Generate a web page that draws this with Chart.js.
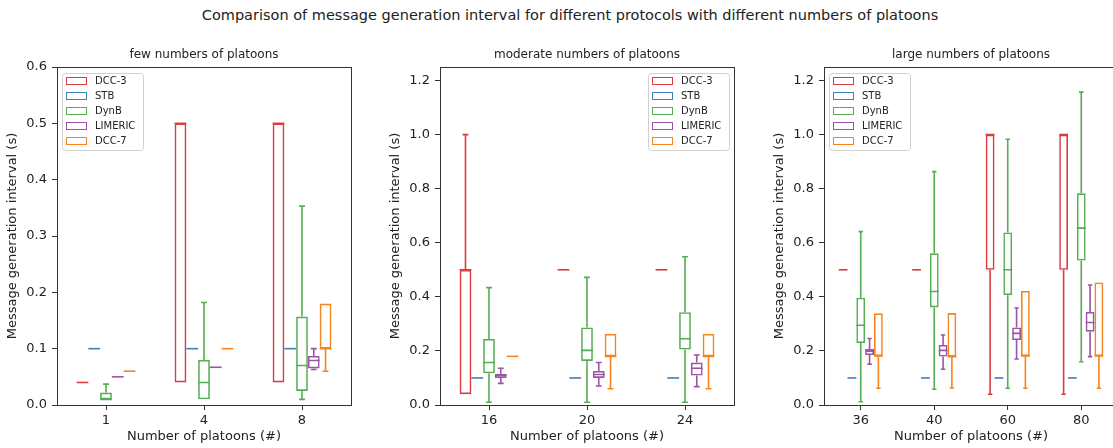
<!DOCTYPE html>
<html>
<head>
<meta charset="utf-8">
<title>Message generation interval</title>
<script src="https://cdn.jsdelivr.net/npm/chart.js@4.4.1/dist/chart.umd.min.js"></script>
<style>
  html, body { margin: 0; padding: 0; width: 1113px; height: 448px; overflow: hidden; background: #fff; }
  #title { position: absolute; left: 0; top: 6px; width: 1140px; text-align: center;
           font: 14.5px "DejaVu Sans", sans-serif; color: #222; line-height: 18px; }
  canvas { position: absolute; top: 40px; }
</style>
</head>
<body>
<div id="title">Comparison of message generation interval for different protocols with different numbers of platoons</div>
<canvas id="few" width="370" height="408" style="left:0px"></canvas>
<canvas id="moderate" width="370" height="408" style="left:383px"></canvas>
<canvas id="large" width="370" height="408" style="left:767px"></canvas>
<script>
// Each box: [lower whisker, q1, median, q3, upper whisker]
const seriesNames = ["DCC-3", "STB", "DynB", "LIMERIC", "DCC-7"];

const fewCats = ["1", "4", "8"];
const fewDCC3 = [[0.04, 0.04, 0.04, 0.04, 0.04], [0.04, 0.04, 0.5, 0.5, 0.5], [0.04, 0.04, 0.5, 0.5, 0.5]];
const fewSTB = [[0.1, 0.1, 0.1, 0.1, 0.1], [0.1, 0.1, 0.1, 0.1, 0.1], [0.1, 0.1, 0.1, 0.1, 0.1]];
const fewDynB = [[0.01, 0.01, 0.01, 0.022, 0.037], [0.01, 0.01, 0.04, 0.08, 0.182], [0.01, 0.025, 0.07, 0.157, 0.353]];
const fewLIMERIC = [[0.05, 0.05, 0.05, 0.05, 0.05], [0.067, 0.067, 0.067, 0.067, 0.067], [0.063, 0.065, 0.079, 0.087, 0.1]];
const fewDCC7 = [[0.06, 0.06, 0.06, 0.06, 0.06], [0.1, 0.1, 0.1, 0.1, 0.1], [0.06, 0.1, 0.1, 0.18, 0.18]];

const modCats = ["16", "20", "24"];
const modDCC3 = [[0.04, 0.04, 0.5, 0.5, 1.0], [0.5, 0.5, 0.5, 0.5, 0.5], [0.5, 0.5, 0.5, 0.5, 0.5]];
const modSTB = [[0.1, 0.1, 0.1, 0.1, 0.1], [0.1, 0.1, 0.1, 0.1, 0.1], [0.1, 0.1, 0.1, 0.1, 0.1]];
const modDynB = [[0.01, 0.117, 0.157, 0.244, 0.434], [0.01, 0.163, 0.202, 0.287, 0.472], [0.01, 0.205, 0.245, 0.343, 0.548]];
const modLIMERIC = [[0.08, 0.1, 0.11, 0.116, 0.136], [0.07, 0.1, 0.113, 0.126, 0.157], [0.068, 0.109, 0.136, 0.157, 0.185]];
const modDCC7 = [[0.18, 0.18, 0.18, 0.18, 0.18], [0.06, 0.18, 0.18, 0.263, 0.263], [0.06, 0.18, 0.18, 0.263, 0.263]];

const largeCats = ["36", "40", "60", "80"];
const largeDCC3 = [[0.5, 0.5, 0.5, 0.5, 0.5], [0.5, 0.5, 0.5, 0.5, 0.5], [0.04, 0.5, 1.0, 1.0, 1.0], [0.04, 0.5, 1.0, 1.0, 1.0]];
const largeSTB = [[0.1, 0.1, 0.1, 0.1, 0.1], [0.1, 0.1, 0.1, 0.1, 0.1], [0.1, 0.1, 0.1, 0.1, 0.1], [0.1, 0.1, 0.1, 0.1, 0.1]];
const largeDynB = [[0.012, 0.229, 0.295, 0.397, 0.641], [0.058, 0.361, 0.42, 0.561, 0.863], [0.062, 0.406, 0.5, 0.638, 0.983], [0.16, 0.534, 0.654, 0.783, 1.157]];
const largeLIMERIC = [[0.151, 0.185, 0.199, 0.207, 0.246], [0.132, 0.179, 0.202, 0.222, 0.259], [0.17, 0.24, 0.265, 0.287, 0.359], [0.179, 0.271, 0.305, 0.344, 0.444]];
const largeDCC7 = [[0.062, 0.181, 0.181, 0.339, 0.339], [0.063, 0.179, 0.179, 0.34, 0.34], [0.062, 0.181, 0.181, 0.422, 0.422], [0.062, 0.181, 0.181, 0.453, 0.453]];

const yTicksFew = [0, 0.1, 0.2, 0.3, 0.4, 0.5, 0.6];
const yTicksMore = [0, 0.2, 0.4, 0.6, 0.8, 1.0, 1.2];

const seriesColors = ["#dc3a40", "#3f7fb8", "#55ad52", "#9a55a5", "#f5841f"];

Chart.defaults.font.family = "'DejaVu Sans', sans-serif";
Chart.defaults.color = "#222";

// outline of the whole plot area (matplotlib spines) + subplot heading
const framePlugin = {
  id: "frame",
  afterDatasetsDraw(chart, args, opts) {
    const { ctx, chartArea: a } = chart;
    ctx.save();
    ctx.strokeStyle = "#333";
    ctx.lineWidth = 1;
    ctx.strokeRect(Math.round(a.left) + 0.5, Math.round(a.top) + 0.5,
      Math.round(a.right - a.left), Math.round(a.bottom - a.top));
    ctx.fillStyle = "#222";
    ctx.font = "12px 'DejaVu Sans', sans-serif";
    ctx.textAlign = "center";
    ctx.textBaseline = "middle";
    ctx.fillText(opts.heading, (a.left + a.right) / 2, a.top - 12);
    ctx.restore();
  },
};

// medians, whiskers and caps on top of the floating bars
const boxPlugin = {
  id: "whiskers",
  afterDatasetsDraw(chart) {
    const ctx = chart.ctx, y = chart.scales.y;
    chart.data.datasets.forEach((ds, i) => {
      const meta = chart.getDatasetMeta(i);
      meta.data.forEach((bar, j) => {
        const [lo, q1, med, q3, hi] = ds.stats[j];
        const x = bar.x, half = bar.width / 2, cap = bar.width / 4;
        ctx.save();
        ctx.strokeStyle = ds.borderColor;
        ctx.lineWidth = 1.6;
        ctx.beginPath();
        const ym = y.getPixelForValue(med);
        ctx.moveTo(x - half, ym);
        ctx.lineTo(x + half, ym);
        if (hi > q3) {
          const yh = y.getPixelForValue(hi);
          ctx.moveTo(x, y.getPixelForValue(q3));
          ctx.lineTo(x, yh);
          ctx.moveTo(x - cap, yh);
          ctx.lineTo(x + cap, yh);
        }
        if (lo < q1) {
          const yl = y.getPixelForValue(lo);
          ctx.moveTo(x, y.getPixelForValue(q1));
          ctx.lineTo(x, yl);
          ctx.moveTo(x - cap, yl);
          ctx.lineTo(x + cap, yl);
        }
        ctx.stroke();
        ctx.restore();
      });
    });
  },
};

// legend inside the plot area, with outlined patches
const legendPlugin = {
  id: "boxLegend",
  afterDraw(chart, args, opts) {
    const { ctx, chartArea: a } = chart;
    const items = chart.data.datasets;
    ctx.save();
    ctx.font = "10px 'DejaVu Sans', sans-serif";
    const textW = Math.max(...items.map((d) => ctx.measureText(d.label).width));
    const w = Math.round(33 + textW + 8), h = items.length * 15 + 2;
    const left = opts.side === "right" ? Math.round(a.right - 5 - w) : Math.round(a.left + 5);
    const top = Math.round(a.top + 6);
    ctx.fillStyle = "rgba(255,255,255,0.8)";
    ctx.strokeStyle = "#d0d0d0";
    ctx.lineWidth = 1;
    ctx.beginPath();
    ctx.roundRect(left + 0.5, top + 0.5, w, h, 3);
    ctx.fill();
    ctx.stroke();
    items.forEach((d, k) => {
      const cy = top + 7.5 + k * 15;
      ctx.strokeStyle = d.borderColor;
      ctx.strokeRect(left + 4.5, Math.round(cy - 3.5) + 0.5, 20, 7);
      ctx.fillStyle = "#222";
      ctx.textBaseline = "middle";
      ctx.fillText(d.label, left + 33, cy + 0.5);
    });
    ctx.restore();
  },
};

function buildChart(id, heading, cats, series, yMax, yTicks, side) {
  const datasets = series.map((boxes, i) => ({
    label: seriesNames[i],
    data: boxes.map((b) => [b[1], b[3]]),
    stats: boxes,
    borderColor: seriesColors[i],
    backgroundColor: "rgba(0,0,0,0)",
    borderWidth: 1.6,
    borderSkipped: false,
    categoryPercentage: 0.6,
    barPercentage: 1,
  }));
  return new Chart(document.getElementById(id), {
    type: "bar",
    data: { labels: cats, datasets },
    options: {
      responsive: false,
      animation: false,
      events: [],
      layout: { padding: { left: 0, right: 19, top: 27, bottom: 0 } },
      plugins: {
        legend: { display: false },
        tooltip: { enabled: false },
        title: { display: false },
        frame: { heading },
        boxLegend: { side },
      },
      scales: {
        x: {
          type: "category",
          offset: true,
          grid: { offset: false, drawOnChartArea: false, drawTicks: true, tickLength: 5, color: "#333" },
          border: { display: false },
          ticks: { font: { size: 13 }, color: "#222", padding: 3, maxRotation: 0 },
          title: { display: true, text: "Number of platoons (#)", font: { size: 13 }, color: "#222", padding: { top: 0, bottom: 3.2 } },
          afterFit: (s) => { s.height = 43; },
        },
        y: {
          min: 0,
          max: yMax,
          grid: { drawOnChartArea: false, drawTicks: true, tickLength: 5, color: "#333" },
          border: { display: false },
          ticks: { font: { size: 13 }, color: "#222", padding: 5, callback: (v) => Number(v).toFixed(1) },
          afterBuildTicks: (s) => { s.ticks = yTicks.map((v) => ({ value: v })); },
          title: { display: true, text: "Message generation interval (s)", font: { size: 13 }, color: "#222", padding: { top: 5.2, bottom: 0 } },
          afterFit: (s) => { s.width = 57; },
        },
      },
    },
    plugins: [framePlugin, boxPlugin, legendPlugin],
  });
}

buildChart("few", "few numbers of platoons", fewCats,
  [fewDCC3, fewSTB, fewDynB, fewLIMERIC, fewDCC7], 0.6, yTicksFew, "left");
buildChart("moderate", "moderate numbers of platoons", modCats,
  [modDCC3, modSTB, modDynB, modLIMERIC, modDCC7], 1.25, yTicksMore, "right");
buildChart("large", "large numbers of platoons", largeCats,
  [largeDCC3, largeSTB, largeDynB, largeLIMERIC, largeDCC7], 1.25, yTicksMore, "left");
</script>
</body>
</html>
